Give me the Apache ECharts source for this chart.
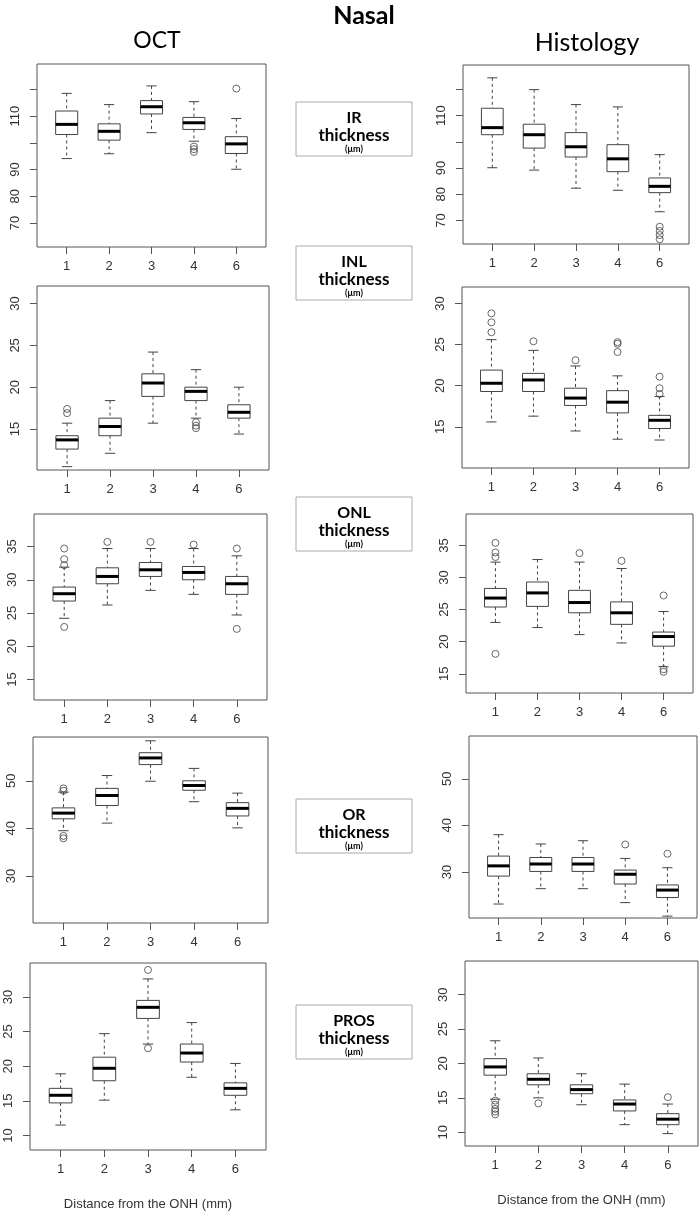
<!DOCTYPE html>
<html><head><meta charset="utf-8">
<script src="https://cdn.jsdelivr.net/npm/echarts@6/dist/echarts.min.js"></script>
<style>html,body{margin:0;padding:0;background:#fff}#c{width:700px;height:1216px}</style>
</head><body><div id="c"></div>
<script>
// Distance from the ONH (mm) categories, placed at positions 1..5
const distanceLabels = ['1', '2', '3', '4', '6'];
const positions = [1, 2, 3, 4, 5];

// Each row: [lower whisker, Q1, median, Q3, upper whisker]
const octIR = [[94.1,103.1,106.9,111.9,118.5],[95.9,101.0,104.3,107.1,114.3],[103.8,110.8,113.5,115.8,121.3],[100.6,105.0,107.5,109.5,115.4],[90.1,96.0,99.6,102.3,109.1]];
const octIROut = [[],[],[],[98.6,97.6,96.6],[120.3]];
const histIR = [[90.1,102.7,105.4,112.8,124.4],[89.2,97.6,102.7,106.7,119.9],[82.3,94.2,98.1,103.5,114.2],[81.5,88.6,93.5,98.9,113.3],[73.3,80.6,83.0,86.2,95.1]];
const histIROut = [[],[],[],[],[67.6,66.0,64.4,62.8]];

const octINL = [[10.5,12.6,13.7,14.2,15.7],[12.1,14.2,15.3,16.3,18.4],[15.7,18.9,20.5,21.6,24.2],[16.3,18.4,19.5,20.0,22.1],[14.4,16.3,17.0,17.9,20.0]];
const octINLOut = [[17.4,16.9],[],[],[15.8,15.4,15.1],[]];
const histINL = [[15.6,19.3,20.3,21.9,25.6],[16.3,19.3,20.7,21.5,24.3],[14.5,17.6,18.5,19.7,22.4],[13.5,16.7,18.0,19.4,21.2],[13.4,14.8,15.8,16.4,18.7]];
const histINLOut = [[26.5,27.7,28.8],[25.4],[23.1],[25.3,25.1,24.1],[21.1,19.7,19.0]];

const octONL = [[24.2,26.8,27.9,28.9,31.9],[26.2,29.4,30.5,31.8,34.7],[28.4,30.5,31.5,32.6,34.7],[27.8,30.0,31.1,32.0,34.7],[24.7,27.8,29.4,30.5,33.6]];
const octONLOut = [[34.7,33.1,32.2,22.9],[35.7],[35.7],[35.3],[34.7,22.6]];
const histONL = [[23.0,25.4,26.8,28.3,32.4],[22.2,25.5,27.6,29.3,32.8],[21.1,24.5,26.1,28.0,32.4],[19.8,22.7,24.5,26.2,31.4],[16.1,19.3,20.8,21.5,24.7]];
const histONLOut = [[35.4,33.9,33.2,18.1],[],[33.8],[32.6],[27.2,15.7,15.3]];

const octOR = [[39.5,42.0,43.2,44.3,47.6],[41.1,44.8,46.9,48.4,51.1],[49.9,53.4,54.8,55.9,58.4],[45.6,48.0,49.0,50.0,52.6],[40.1,42.6,44.2,45.4,47.4]];
const octOROut = [[48.4,47.9,38.4,37.9],[],[],[],[]];
const histOR = [[23.1,29.1,31.3,33.4,38.0],[26.4,30.1,31.7,33.1,36.0],[26.4,30.1,31.7,33.1,36.7],[23.4,27.4,29.5,30.4,32.9],[20.5,24.5,26.1,27.2,30.9]];
const histOROut = [[],[],[],[35.9],[33.9]];

const octPROS = [[11.5,14.7,15.8,16.8,18.9],[15.1,17.9,19.7,21.3,24.7],[23.2,26.9,28.5,29.5,32.6],[18.4,20.6,21.9,23.2,26.3],[13.7,15.8,16.8,17.6,20.4]];
const octPROSOut = [[],[],[33.9,22.6],[],[]];
const histPROS = [[14.8,18.3,19.5,20.7,23.3],[15.0,16.9,17.7,18.5,20.8],[14.0,15.6,16.2,16.9,18.5],[11.1,13.1,14.1,14.7,17.0],[9.8,11.1,11.9,12.7,14.1]];
const histPROSOut = [[14.6,14.0,13.4,13.0,12.6],[14.2],[],[],[15.1]];

// Y tick values and labelled ticks
const irTicks = [70, 80, 90, 100, 110, 120];
const irLabels = [70, 80, 90, 110];
const inlTicks = [15, 20, 25, 30];
const onlTicks = [15, 20, 25, 30, 35];
const orTicks = [30, 40, 50];
const prosTicks = [10, 15, 20, 25, 30];

// Titles
const mainTitle = 'Nasal';
const columnTitles = ['OCT', 'Histology'];
const layerNames = ['IR', 'INL', 'ONL', 'OR', 'PROS'];
const xTitle = 'Distance from the ONH (mm)';

// Layout (positions / sizes)
const panels = [
  {box: octIR, out: octIROut, rect: [37, 64, 229, 183], y: [61, 129.5], ticks: irTicks, labels: irLabels},
  {box: histIR, out: histIROut, rect: [463, 65, 226, 179], y: [61, 129.3], ticks: irTicks, labels: irLabels},
  {box: octINL, out: octINLOut, rect: [37, 286, 232, 184], y: [10.1, 32.1], ticks: inlTicks, labels: inlTicks},
  {box: histINL, out: histINLOut, rect: [462, 287, 227, 181], y: [10.0, 32.0], ticks: inlTicks, labels: inlTicks},
  {box: octONL, out: octONLOut, rect: [34, 514, 233, 186], y: [11.9, 39.9], ticks: onlTicks, labels: onlTicks},
  {box: histONL, out: histONLOut, rect: [466, 514, 227, 179], y: [12.0, 39.9], ticks: onlTicks, labels: onlTicks},
  {box: octOR, out: octOROut, rect: [33, 737, 235, 186], y: [20.1, 59.2], ticks: orTicks, labels: orTicks},
  {box: histOR, out: histOROut, rect: [469, 736, 228, 182], y: [20.1, 59.2], ticks: orTicks, labels: orTicks},
  {box: octPROS, out: octPROSOut, rect: [30, 963, 236, 187], y: [7.9, 34.9], ticks: prosTicks, labels: prosTicks, xTitle: true},
  {box: histPROS, out: histPROSOut, rect: [465, 961, 233, 185], y: [8.0, 34.9], ticks: prosTicks, labels: prosTicks, xTitle: true}
];
const labelBoxCenters = [129, 273, 524, 826, 1032];

const LINE = '#444';
const HALF_BOX = 0.26, HALF_CAP = 0.12;

function renderBox(params, api) {
  const x = api.value(0);
  const lo = api.value(1), q1 = api.value(2), med = api.value(3), q3 = api.value(4), hi = api.value(5);
  const p = (a, b) => api.coord([a, b]);
  const line = (a, b, extra) => ({type: 'line', shape: {x1: a[0], y1: a[1], x2: b[0], y2: b[1]},
    style: Object.assign({stroke: LINE, lineWidth: 1, fill: null}, extra || {})});
  const tl = p(x - HALF_BOX, q3), br = p(x + HALF_BOX, q1);
  return {type: 'group', children: [
    line(p(x, hi), p(x, q3), {lineDash: [3, 3]}),
    line(p(x, q1), p(x, lo), {lineDash: [3, 3]}),
    line(p(x - HALF_CAP, hi), p(x + HALF_CAP, hi)),
    line(p(x - HALF_CAP, lo), p(x + HALF_CAP, lo)),
    {type: 'rect', shape: {x: tl[0], y: tl[1], width: br[0] - tl[0], height: br[1] - tl[1]},
      style: {fill: '#fff', stroke: LINE, lineWidth: 1}},
    line(p(x - HALF_BOX, med), p(x + HALF_BOX, med), {stroke: '#000', lineWidth: 3})
  ]};
}

const FONT = 'Liberation Sans, Arial, sans-serif';
const option = {animation: false, backgroundColor: '#fff', grid: [], xAxis: [], yAxis: [], series: [], graphic: []};

panels.forEach((pn, i) => {
  option.grid.push({left: pn.rect[0], top: pn.rect[1], width: pn.rect[2], height: pn.rect[3],
    show: true, borderColor: '#555', borderWidth: 1, backgroundColor: 'rgba(0,0,0,0)'});
  option.xAxis.push({gridIndex: i, type: 'value', min: 0.3, max: 5.7,
    axisLine: {show: false}, splitLine: {show: false},
    axisTick: {show: true, inside: false, length: 7, customValues: positions, lineStyle: {color: '#555'}},
    axisLabel: {customValues: positions, formatter: v => distanceLabels[Math.round(v) - 1],
      margin: 13, fontSize: 13, color: '#333', fontFamily: FONT},
    name: pn.xTitle ? xTitle : '', nameLocation: 'middle', nameGap: 48,
    nameTextStyle: {fontSize: 13, color: '#333', fontFamily: FONT}});
  option.yAxis.push({gridIndex: i, type: 'value', min: pn.y[0], max: pn.y[1],
    axisLine: {show: false}, splitLine: {show: false},
    axisTick: {show: true, inside: false, length: 7, customValues: pn.ticks, lineStyle: {color: '#555'}},
    axisLabel: {customValues: pn.labels, rotate: 90, margin: 15, fontSize: 13, color: '#333', fontFamily: FONT}});
  option.series.push({type: 'custom', xAxisIndex: i, yAxisIndex: i, renderItem: renderBox, silent: true,
    data: pn.box.map((b, k) => [positions[k]].concat(b)), encode: {x: 0, y: [1, 2, 3, 4, 5]}});
  option.series.push({type: 'scatter', xAxisIndex: i, yAxisIndex: i, symbol: 'circle', symbolSize: 7,
    silent: true, itemStyle: {color: 'rgba(255,255,255,0)', borderColor: '#444', borderWidth: 1}, z: 3,
    data: pn.out.flatMap((arr, k) => arr.map(v => [positions[k], v]))});
});

// Headers
option.graphic.push({type: 'text', x: 364, y: 16, style: {text: mainTitle, fontSize: 25, fontWeight: 'bold',
  fontFamily: 'Lato, Open Sans, sans-serif', fill: '#000', align: 'center', verticalAlign: 'middle'}});
option.graphic.push({type: 'text', x: 157, y: 41, style: {text: columnTitles[0], fontSize: 23,
  fontFamily: 'Lato, Open Sans, sans-serif', fill: '#000', align: 'center', verticalAlign: 'middle'}});
option.graphic.push({type: 'text', x: 587, y: 43, style: {text: columnTitles[1], fontSize: 25,
  fontFamily: 'Lato, Open Sans, sans-serif', fill: '#000', align: 'center', verticalAlign: 'middle'}});

// Layer label boxes
layerNames.forEach((nm, i) => {
  const cy = labelBoxCenters[i];
  option.graphic.push({type: 'group', children: [
    {type: 'rect', shape: {x: 296, y: cy - 27, width: 116, height: 54}, style: {fill: '#fff', stroke: '#aaa', lineWidth: 1}},
    {type: 'text', x: 354, y: cy - 11, style: {text: nm, fontSize: 16, fontWeight: 'bold', fontFamily: 'Lato, Open Sans, sans-serif', fill: '#000', align: 'center', verticalAlign: 'middle'}},
    {type: 'text', x: 354, y: cy + 7, style: {text: 'thickness', fontSize: 17, fontWeight: 'bold', fontFamily: 'Lato, Open Sans, sans-serif', fill: '#000', align: 'center', verticalAlign: 'middle'}},
    {type: 'text', x: 354, y: cy + 20, style: {text: '(μm)', fontSize: 9, fontWeight: 'bold', fontFamily: 'Lato, Open Sans, sans-serif', fill: '#000', align: 'center', verticalAlign: 'middle'}}
  ]});
});

const chart = echarts.init(document.getElementById('c'), null, {renderer: 'canvas'});
chart.setOption(option);
</script></body></html>
